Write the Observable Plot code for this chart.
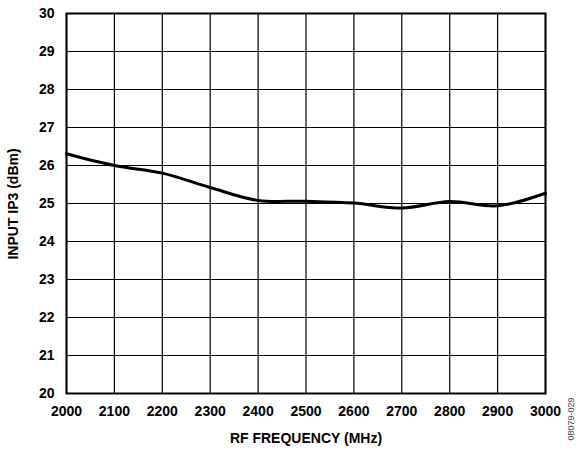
<!DOCTYPE html>
<html>
<head>
<meta charset="utf-8">
<script src="https://cdn.jsdelivr.net/npm/d3@7"></script>
<script src="https://cdn.jsdelivr.net/npm/@observablehq/plot@0.6"></script>
<style>
  html, body { margin: 0; padding: 0; background: #fff; }
  #chart { position: relative; width: 577px; height: 451px; }
</style>
</head>
<body>
<div id="chart"></div>
<script>
const freqs = [2000, 2100, 2200, 2300, 2400, 2500, 2600, 2700, 2800, 2900, 3000];
const iip3 = [26.31, 26.0, 25.8, 25.42, 25.08, 25.06, 25.01, 24.88, 25.05, 24.94, 25.27];
const xTicks = [2000, 2100, 2200, 2300, 2400, 2500, 2600, 2700, 2800, 2900, 3000];
const yTicks = [20, 21, 22, 23, 24, 25, 26, 27, 28, 29, 30];
const xLabel = "RF FREQUENCY (MHz)";
const yLabel = "INPUT IP3 (dBm)";
const code = "08079-029";

const data = freqs.map((f, i) => ({f, v: iip3[i]}));

const plot = Plot.plot({
  width: 577,
  height: 451,
  marginLeft: 66,
  marginRight: 32,
  marginTop: 13,
  marginBottom: 58,
  style: {fontFamily: "'Liberation Sans', Arial, sans-serif", fontSize: "14px", fontWeight: "bold", color: "#000", background: "#fff"},
  x: {domain: [2000, 3000], label: null},
  y: {domain: [20, 30], label: null},
  marks: [
    Plot.gridX(xTicks, {stroke: "#000", strokeOpacity: 1, strokeWidth: 1.2}),
    Plot.gridY(yTicks, {stroke: "#000", strokeOpacity: 1, strokeWidth: 1.2}),
    Plot.frame({stroke: "#000", strokeWidth: 2}),
    Plot.line(data, {x: "f", y: "v", curve: "catmull-rom", stroke: "#000", strokeWidth: 3}),
    Plot.axisX({ticks: xTicks, tickSize: 0, tickPadding: 13, tickFormat: d => String(d), label: null, fontWeight: "bold", fontSize: 14}),
    Plot.axisY({ticks: yTicks, tickSize: 0, tickPadding: 12, tickFormat: d => String(d), label: null, fontWeight: "bold", fontSize: 14})
  ]
});

const svg = d3.select(plot);
svg.append("text")
  .attr("x", 306).attr("y", 443)
  .attr("text-anchor", "middle")
  .attr("font-size", 14).attr("font-weight", "bold")
  .attr("fill", "#000")
  .text(xLabel);
svg.append("text")
  .attr("transform", "translate(18,204) rotate(-90)")
  .attr("text-anchor", "middle")
  .attr("font-size", 14).attr("font-weight", "bold")
  .attr("fill", "#000")
  .text(yLabel);
svg.append("text")
  .attr("transform", "translate(574,419) rotate(-90)")
  .attr("text-anchor", "middle")
  .attr("font-size", 9)
  .attr("font-weight", "normal")
  .attr("fill", "#444")
  .text(code);

document.getElementById("chart").appendChild(plot);
</script>
</body>
</html>
